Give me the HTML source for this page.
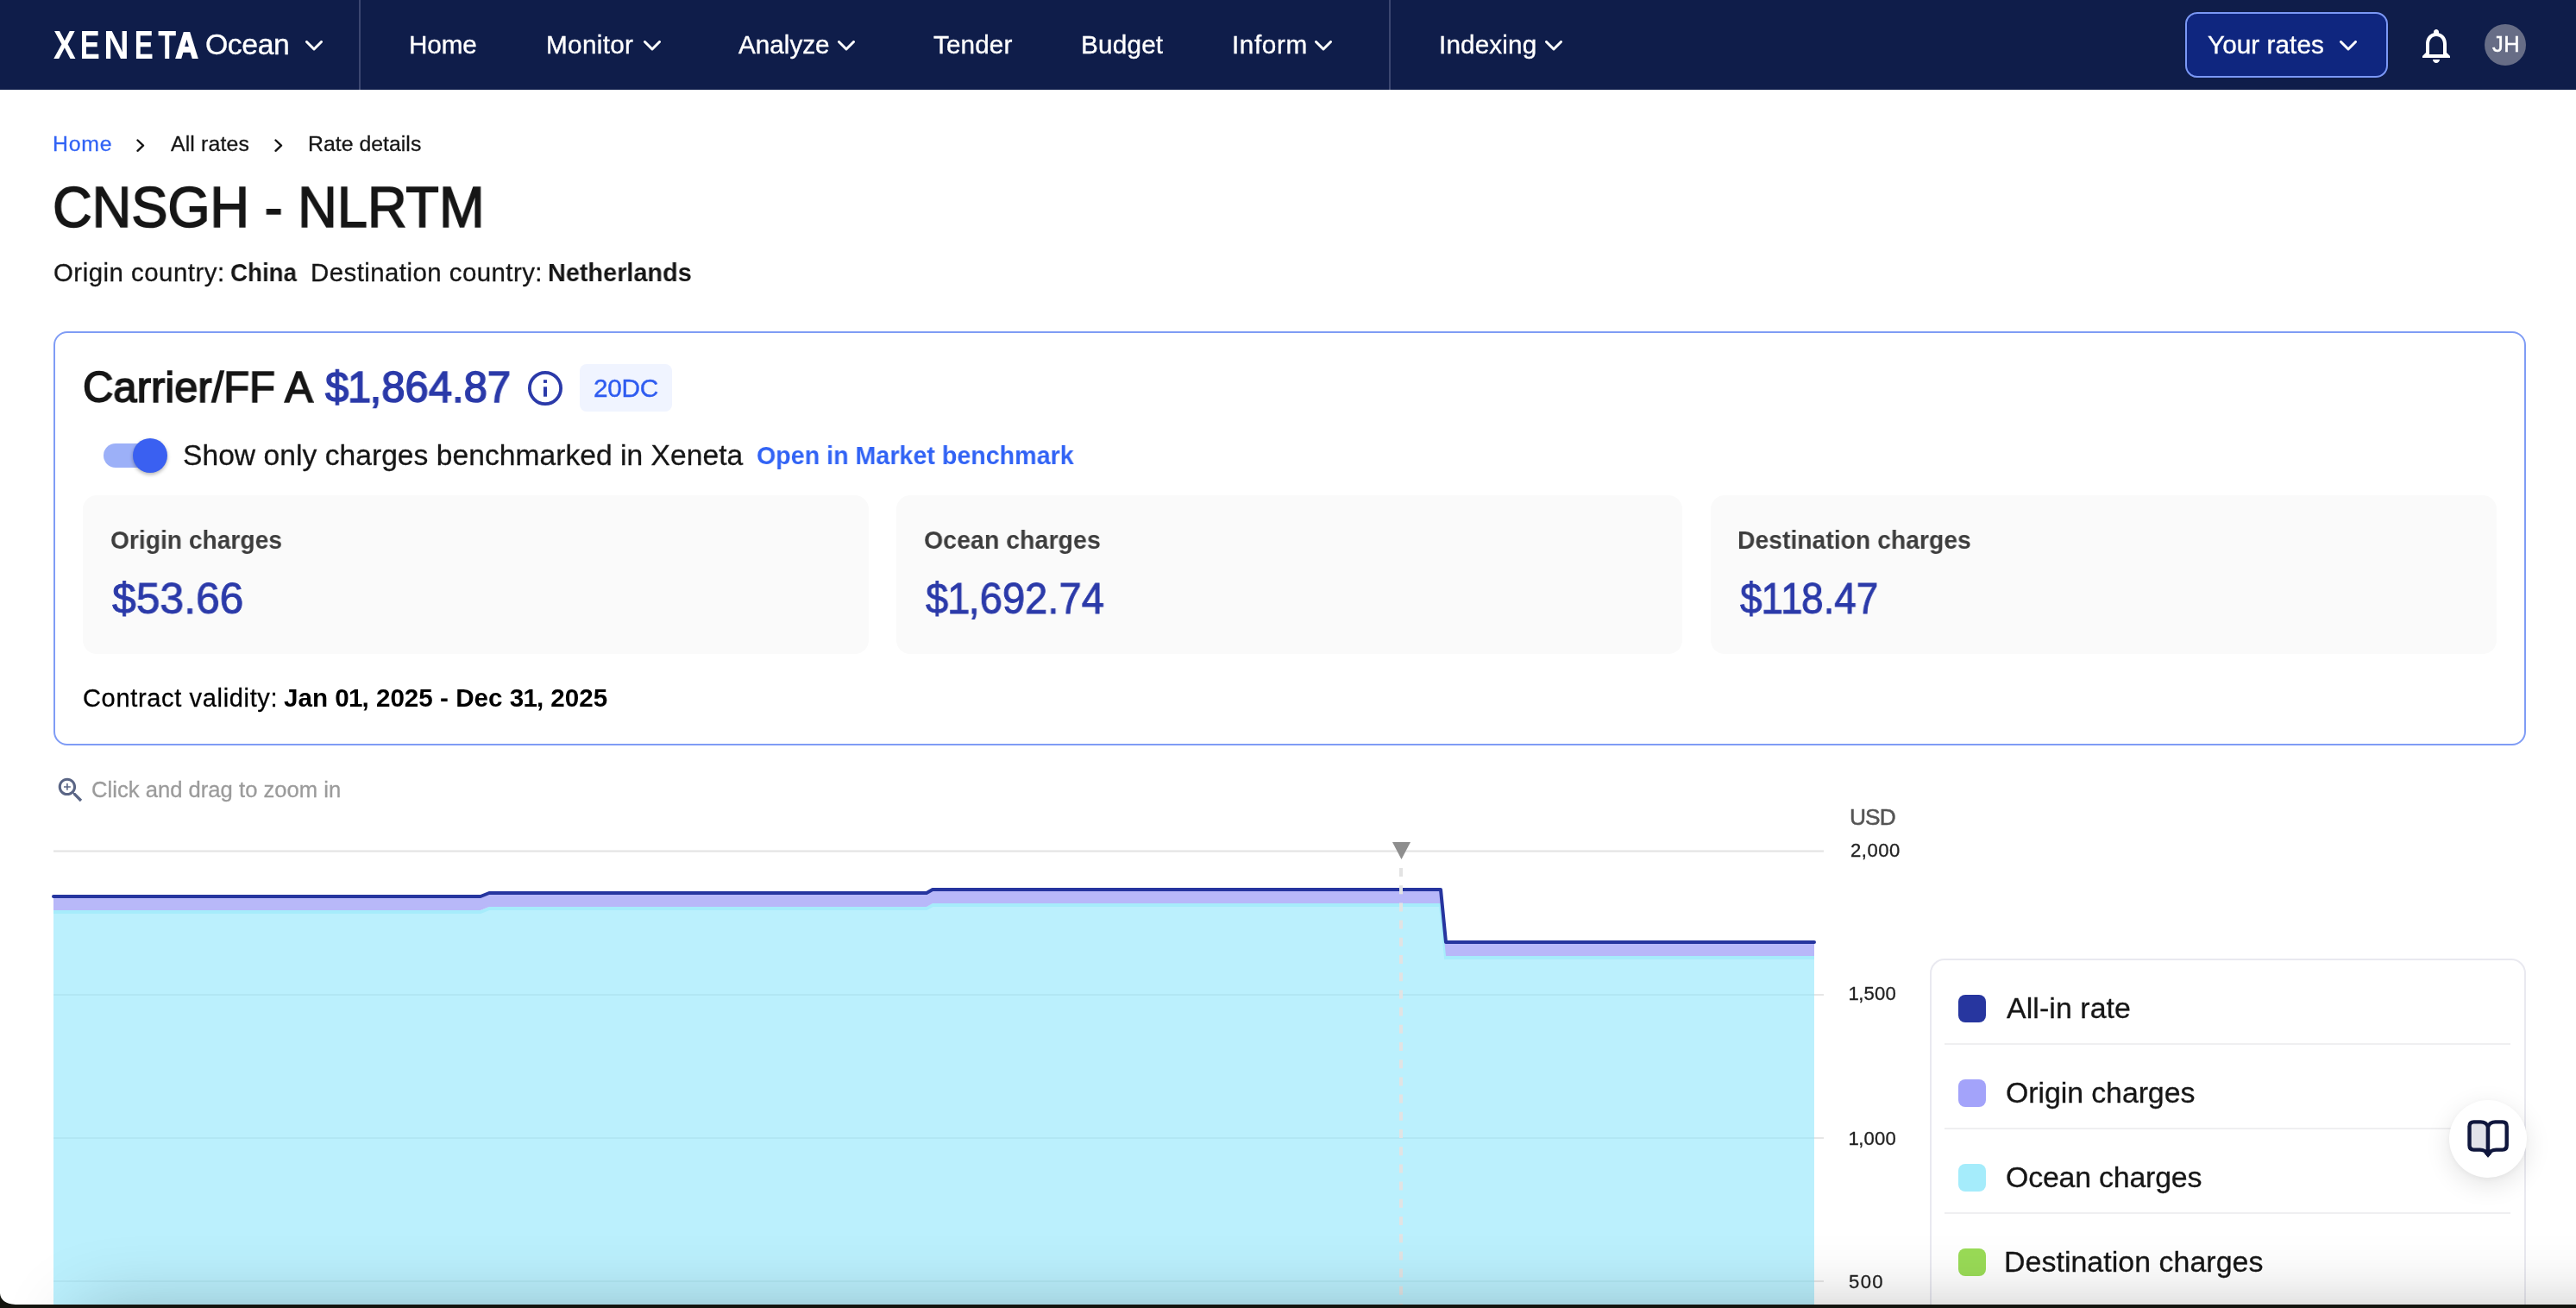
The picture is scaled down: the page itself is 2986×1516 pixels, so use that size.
<!DOCTYPE html>
<html lang="en">
<head>
<meta charset="utf-8">
<title>Rate details</title>
<style>
*{box-sizing:border-box;margin:0;padding:0}
html,body{width:2986px;height:1516px;overflow:hidden;background:#fff}
body{position:relative;font-family:"Liberation Sans",sans-serif;color:#161616}
.t{position:absolute;white-space:nowrap;line-height:1;will-change:transform}
.nav{position:absolute;left:0;top:0;width:2986px;height:104px;background:#0f1d4a}
.nav .t{color:#fff;font-size:29px}
.vdiv{position:absolute;top:0;width:2px;height:104px;background:#3b4670}
svg{position:absolute;overflow:visible;will-change:transform}
b{font-weight:700}
.o{font-style:normal;margin:0 -0.035em 0 -0.025em}
</style>
</head>
<body>
<!-- NAVBAR -->
<div class="nav">
  <svg id="logo" style="left:0;top:0" width="240" height="104" viewBox="0 0 240 104">
    <text transform="translate(62.11,68.0) scale(0.832,1)" font-family="Liberation Sans, sans-serif" font-weight="700" font-size="46.4" fill="#fff">X</text>
    <text transform="translate(92.87,68.0) scale(0.740,1)" font-family="Liberation Sans, sans-serif" font-weight="700" font-size="46.4" fill="#fff">E</text>
    <text transform="translate(120.36,68.0) scale(0.877,1)" font-family="Liberation Sans, sans-serif" font-weight="700" font-size="46.4" fill="#fff">N</text>
    <text transform="translate(155.86,68.0) scale(0.710,1)" font-family="Liberation Sans, sans-serif" font-weight="700" font-size="46.4" fill="#fff">E</text>
    <text transform="translate(183.26,68.0) scale(0.738,1)" font-family="Liberation Sans, sans-serif" font-weight="700" font-size="46.4" fill="#fff">T</text>
    <text transform="translate(203.60,66.90) scale(0.776,0.931)" font-family="Liberation Sans, sans-serif" font-weight="700" font-size="46.4" fill="#fff" stroke="#fff" stroke-width="2.2" stroke-linejoin="miter">A</text>
  </svg>
  <div class="t" id="n-ocean" style="left:238.0px;top:34.6px;font-size:33.8px;letter-spacing:-0.44px;-webkit-text-stroke:0.35px #fff">Ocean</div>
  <svg style="left:354px;top:47px" width="20" height="12" viewBox="0 0 20 12"><path d="M1.5 1.5 L10 10 L18.5 1.5" fill="none" stroke="#fff" stroke-width="3" stroke-linecap="round" stroke-linejoin="round"/></svg>
  <div class="vdiv" style="left:416px"></div>
  <div class="t" id="n-home" style="left:474.0px;top:36.9px;font-size:29.7px;letter-spacing:-0.14px;-webkit-text-stroke:0.35px #fff">Home</div>
  <div class="t" id="n-monitor" style="left:633.2px;top:36.9px;font-size:29.7px;letter-spacing:0.33px;-webkit-text-stroke:0.35px #fff">Monitor</div>
  <svg style="left:746.300px;top:47px" width="20" height="12" viewBox="0 0 20 12"><path d="M1.5 1.5 L10 10 L18.5 1.5" fill="none" stroke="#fff" stroke-width="3" stroke-linecap="round" stroke-linejoin="round"/></svg>
  <div class="t" id="n-analyze" style="left:856.0px;top:36.9px;font-size:29.7px;letter-spacing:-0.00px;-webkit-text-stroke:0.35px #fff">Analyze</div>
  <svg style="left:971.200px;top:47px" width="20" height="12" viewBox="0 0 20 12"><path d="M1.5 1.5 L10 10 L18.5 1.5" fill="none" stroke="#fff" stroke-width="3" stroke-linecap="round" stroke-linejoin="round"/></svg>
  <div class="t" id="n-tender" style="left:1081.8px;top:36.9px;font-size:29.7px;letter-spacing:0.12px;-webkit-text-stroke:0.35px #fff">Tender</div>
  <div class="t" id="n-budget" style="left:1252.8px;top:36.9px;font-size:29.7px;letter-spacing:0.20px;-webkit-text-stroke:0.35px #fff">Budget</div>
  <div class="t" id="n-inform" style="left:1428.2px;top:36.9px;font-size:29.7px;letter-spacing:0.60px;-webkit-text-stroke:0.35px #fff">Inform</div>
  <svg style="left:1524px;top:47px" width="20" height="12" viewBox="0 0 20 12"><path d="M1.5 1.5 L10 10 L18.5 1.5" fill="none" stroke="#fff" stroke-width="3" stroke-linecap="round" stroke-linejoin="round"/></svg>
  <div class="vdiv" style="left:1610px"></div>
  <div class="t" id="n-indexing" style="left:1668.2px;top:36.9px;font-size:29.7px;letter-spacing:0.13px;-webkit-text-stroke:0.35px #fff">Indexing</div>
  <svg style="left:1791px;top:47px" width="20" height="12" viewBox="0 0 20 12"><path d="M1.5 1.5 L10 10 L18.5 1.5" fill="none" stroke="#fff" stroke-width="3" stroke-linecap="round" stroke-linejoin="round"/></svg>
  <div id="yr" style="position:absolute;left:2533px;top:14px;width:235px;height:76px;border:2px solid #7b98f5;border-radius:14px;background:#0f267f"></div>
  <div class="t" id="n-yr" style="left:2559.4px;top:36.9px;font-size:29.7px;letter-spacing:0.07px;-webkit-text-stroke:0.35px #fff">Your rates</div>
  <svg style="left:2712px;top:47px" width="20" height="12" viewBox="0 0 20 12"><path d="M1.5 1.5 L10 10 L18.5 1.5" fill="none" stroke="#fff" stroke-width="3" stroke-linecap="round" stroke-linejoin="round"/></svg>
  <svg id="bell" style="left:2800px;top:28.500px" width="48" height="48" viewBox="0 0 24 24"><path fill="#fff" d="M12 22c1.100 0 2-.9 2-2h-4c0 1.100.9 2 2 2zm6-6v-5c0-3.070-1.630-5.640-4.500-6.320V4c0-.83-.67-1.500-1.500-1.500s-1.500.67-1.500 1.500v.68C7.640 5.360 6 7.920 6 11v5l-2 2v1h16v-1l-2-2zm-2 1H8v-6c0-2.480 1.510-4.500 4-4.500s4 2.020 4 4.500v6z"/></svg>
  <div style="position:absolute;left:2880px;top:28px;width:48px;height:48px;border-radius:50%;background:#676d86"></div>
  <div class="t" id="n-jh" style="left:2888.6px;top:38.5px;font-size:25.4px;-webkit-text-stroke:0.5px #fff;letter-spacing:0.60px">JH</div>
</div>

<!-- BREADCRUMB + TITLE -->
<div class="t" id="bc-home" style="left:61.0px;top:154.5px;font-size:24.8px;color:#3163f5;letter-spacing:0.76px;-webkit-text-stroke:0.3px #3163f5">Home</div>
<svg style="left:158.3px;top:160.500px" width="9.500" height="15.300" viewBox="0 0 9.500 15.300"><path d="M1.500 1.500 L8 7.650 L1.500 13.800" fill="none" stroke="#161616" stroke-width="2.400" stroke-linecap="round" stroke-linejoin="round"/></svg>
<div class="t" id="bc-all" style="left:198.4px;top:154.5px;font-size:24.8px;letter-spacing:0.15px;-webkit-text-stroke:0.3px #161616">All rates</div>
<svg style="left:318.2px;top:160.500px" width="9.500" height="15.300" viewBox="0 0 9.500 15.300"><path d="M1.500 1.500 L8 7.650 L1.500 13.800" fill="none" stroke="#161616" stroke-width="2.400" stroke-linecap="round" stroke-linejoin="round"/></svg>
<div class="t" id="bc-rate" style="left:356.6px;top:154.5px;font-size:24.8px;letter-spacing:0.03px;-webkit-text-stroke:0.3px #161616">Rate details</div>
<div class="t" id="title" style="left:61.0px;top:207.1px;font-size:66.4px;-webkit-text-stroke:1.6px #161616;letter-spacing:0.00px;transform:scaleX(0.9512);transform-origin:0 50%">CNSGH - NLRTM</div>
<div class="t" id="sub1" style="left:62.0px;top:300.9px;font-size:29.4px;letter-spacing:0.50px;-webkit-text-stroke:0.3px #161616">Origin country:</div>
<div class="t" id="sub2" style="left:267.0px;top:300.9px;font-size:29.4px;font-weight:700;letter-spacing:0.00px;transform:scaleX(0.9434);transform-origin:0 50%">China</div>
<div class="t" id="sub3" style="left:359.8px;top:300.9px;font-size:29.4px;letter-spacing:0.46px;-webkit-text-stroke:0.3px #161616">Destination country:</div>
<div class="t" id="sub4" style="left:635.0px;top:300.9px;font-size:29.4px;font-weight:700;letter-spacing:0.00px;transform:scaleX(0.9820);transform-origin:0 50%">Netherlands</div>

<!-- CARD -->
<div id="card" style="position:absolute;left:62px;top:384px;width:2866px;height:480px;border:2px solid #7f9cf5;border-radius:16px;background:#fff"></div>
<div class="t" id="c-title" style="left:96.0px;top:425.2px;font-size:49.6px;-webkit-text-stroke:1.6px #161616;letter-spacing:0.00px;transform:scaleX(0.9874);transform-origin:0 50%">Carrier/FF A</div>
<div class="t" id="c-price" style="left:377.4px;top:425.2px;font-size:49.6px;color:#2b3aa9;-webkit-text-stroke:1.5px #2b3aa9;letter-spacing:0.00px;transform:scaleX(0.9884);transform-origin:0 50%">$<i class="o">1</i>,864.87</div>
<svg id="info" style="left:612px;top:430px" width="40" height="40" viewBox="0 0 40 40"><circle cx="20" cy="20" r="18.100" fill="none" stroke="#2b3aa9" stroke-width="3.800"/><rect x="18" y="18.300" width="4" height="11.400" fill="#2b3aa9"/><rect x="18" y="10.200" width="4" height="3.700" fill="#2b3aa9"/></svg>
<div style="position:absolute;left:672px;top:422px;width:107px;height:55px;border-radius:8px;background:#f0f4ff"></div>
<div class="t" id="c-badge" style="left:687.6px;top:434.7px;font-size:29.8px;color:#2f5cf0;letter-spacing:-0.29px;-webkit-text-stroke:0.4px #2f5cf0">20DC</div>

<div style="position:absolute;left:120px;top:514px;width:72px;height:28px;border-radius:14px;background:#9cb0f8"></div>
<div style="position:absolute;left:154px;top:508px;width:40px;height:40px;border-radius:50%;background:#3a60f1;box-shadow:0 2px 4px rgba(0,0,0,.3)"></div>
<div class="t" id="c-show" style="left:211.6px;top:510.5px;font-size:33.6px;letter-spacing:0.04px;-webkit-text-stroke:0.3px #161616">Show only charges benchmarked in Xeneta</div>
<div class="t" id="c-open" style="left:876.8px;top:513.4px;font-size:29.4px;font-weight:700;color:#3163f5;letter-spacing:0.00px;transform:scaleX(0.9744);transform-origin:0 50%">Open in Market benchmark</div>

<div class="sc" style="position:absolute;left:96px;top:574px;width:911px;height:184px;border-radius:16px;background:#fafafa"></div>
<div class="sc" style="position:absolute;left:1039px;top:574px;width:911px;height:184px;border-radius:16px;background:#fafafa"></div>
<div class="sc" style="position:absolute;left:1983px;top:574px;width:911px;height:184px;border-radius:16px;background:#fafafa"></div>
<div class="t" id="l1" style="left:128.2px;top:611.1px;font-size:29.4px;font-weight:700;color:#3d3d3d;letter-spacing:0.00px;transform:scaleX(0.9594);transform-origin:0 50%">Origin charges</div>
<div class="t" id="l2" style="left:1070.8px;top:611.1px;font-size:29.4px;font-weight:700;color:#3d3d3d;letter-spacing:0.00px;transform:scaleX(0.9716);transform-origin:0 50%">Ocean charges</div>
<div class="t" id="l3" style="left:2014.0px;top:611.1px;font-size:29.4px;font-weight:700;color:#3d3d3d;letter-spacing:0.00px;transform:scaleX(0.9640);transform-origin:0 50%">Destination charges</div>
<div class="t" id="v1" style="left:130.4px;top:668.7px;font-size:50.2px;color:#2b3aa9;-webkit-text-stroke:0.9px #2b3aa9;letter-spacing:0.00px;transform:scaleX(0.9929);transform-origin:0 50%">$53.66</div>
<div class="t" id="v2" style="left:1072.8px;top:668.7px;font-size:50.2px;color:#2b3aa9;-webkit-text-stroke:0.9px #2b3aa9;letter-spacing:0.00px;transform:scaleX(0.9390);transform-origin:0 50%">$<i class="o">1</i>,692.74</div>
<div class="t" id="v3" style="left:2017.2px;top:668.7px;font-size:50.2px;color:#2b3aa9;-webkit-text-stroke:0.9px #2b3aa9;letter-spacing:0.00px;transform:scaleX(0.9140);transform-origin:0 50%">$<i class="o">1</i><i class="o">1</i>8.47</div>
<div class="t" id="valid1" style="left:95.6px;top:795.4px;font-size:29.0px;color:#000;letter-spacing:0.66px;-webkit-text-stroke:0.3px #000">Contract validity:</div>
<div class="t" id="valid2" style="left:328.8px;top:795.4px;font-size:29.0px;font-weight:700;color:#000;letter-spacing:0.00px;transform:scaleX(1.0212);transform-origin:0 50%">Jan 0<i class="o">1</i>, 2025 - Dec 3<i class="o">1</i>, 2025</div>

<!-- CHART -->
<svg id="zoomic" style="left:62.500px;top:897.100px" width="37.680" height="37.680" viewBox="0 0 24 24"><path fill="#5a6585" d="M15.500 14h-.79l-.28-.27C15.410 12.590 16 11.110 16 9.500 16 5.910 13.090 3 9.500 3S3 5.910 3 9.500 5.910 16 9.500 16c1.610 0 3.090-.59 4.230-1.570l.27.28v.79l5 4.990L20.490 19l-4.990-5zm-6 0C7.010 14 5 11.990 5 9.500S7.010 5 9.500 5 14 7.010 14 9.500 11.990 14 9.500 14zm2.500-4h-2v2H9v-2H7V9h2V7h1v2h2v1z"/></svg>
<div class="t" id="z-text" style="left:106.2px;top:903.3px;font-size:25.6px;color:#9b9b9b;letter-spacing:0.02px;-webkit-text-stroke:0.3px #9b9b9b">Click and drag to zoom in</div>

<svg id="chart" style="left:0;top:0" width="2986" height="1516" viewBox="0 0 2986 1516">
  <!-- gridlines -->
  <path d="M62 986.500 H2114" stroke="#e2e2e2" stroke-width="2" fill="none"/>
  <path d="M62 1153 H2114 M62 1319 H2114 M62 1485 H2114" stroke="#e6e6e6" stroke-width="2" fill="none"/>
  <!-- ocean area -->
  <path d="M62 1057 L557 1057 L567 1053 L1074 1053 L1081 1049 L1670 1049 L1676 1110 L2103 1110 L2103 1516 L62 1516 Z" fill="#bbf0fd"/>
  <path d="M62 1057 L557 1057 L567 1053 L1074 1053 L1081 1049 L1670 1049 L1676 1110 L2103 1110" fill="none" stroke="#a6ecfb" stroke-width="4"/>
  <!-- gridlines over fill (faint) -->
  <path d="M62 1153 H2103 M62 1319 H2103 M62 1485 H2103" stroke="#b2e7f4" stroke-width="2" fill="none"/>
  <!-- origin area -->
  <path d="M62 1039 L557 1039 L567 1035 L1074 1035 L1081 1031 L1670 1031 L1676 1092 L2103 1092 L2103 1108 L1676 1108 L1670 1047 L1081 1047 L1074 1051 L567 1051 L557 1055 L62 1055 Z" fill="#b8b8f9"/>
  <!-- all-in line -->
  <path d="M62 1039 L557 1039 L567 1035 L1074 1035 L1081 1031 L1670 1031 L1676 1092 L2103 1092" fill="none" stroke="#26359f" stroke-width="4" stroke-linejoin="round" stroke-linecap="round"/>
  <!-- dashed marker -->
  <path d="M1624 1006 V1516" stroke="#e3e3e3" stroke-width="4" stroke-dasharray="10 10.200" fill="none"/>
  <path d="M1614 976 H1635 L1624.500 996 Z" fill="#8e8e8e"/>
</svg>
<div class="t" id="a-usd" style="left:2143.8px;top:933.6px;font-size:26.3px;color:#555;-webkit-text-stroke:0.5px #555;letter-spacing:-0.90px">USD</div>
<div class="t" id="a-2000" style="left:2144.6px;top:975.3px;font-size:22.1px;color:#222;letter-spacing:0.53px;-webkit-text-stroke:0.3px #222">2,000</div>
<div class="t" id="a-1500" style="left:2143.4px;top:1141.4px;font-size:22.1px;color:#222;letter-spacing:0.22px;-webkit-text-stroke:0.3px #222"><i class="o">1</i>,500</div>
<div class="t" id="a-1000" style="left:2143.4px;top:1309.3px;font-size:22.1px;color:#222;letter-spacing:0.22px;-webkit-text-stroke:0.3px #222"><i class="o">1</i>,000</div>
<div class="t" id="a-500" style="left:2143.4px;top:1475.3px;font-size:22.1px;color:#222;letter-spacing:1.40px;-webkit-text-stroke:0.3px #222">500</div>

<!-- LEGEND -->
<div id="legend" style="position:absolute;left:2237px;top:1111px;width:691px;height:460px;border:2px solid #e9e9f0;border-radius:17px;background:#fff"></div>
<div style="position:absolute;left:2254px;top:1209px;width:656px;height:2px;background:#efeff1"></div>
<div style="position:absolute;left:2254px;top:1307px;width:656px;height:2px;background:#efeff1"></div>
<div style="position:absolute;left:2254px;top:1405px;width:656px;height:2px;background:#efeff1"></div>
<div style="position:absolute;left:2270px;top:1153px;width:32px;height:32px;border-radius:8px;background:#27369f"></div>
<div style="position:absolute;left:2270px;top:1251px;width:32px;height:32px;border-radius:8px;background:#a3a3fa"></div>
<div style="position:absolute;left:2270px;top:1349px;width:32px;height:32px;border-radius:8px;background:#a5ecfb"></div>
<div style="position:absolute;left:2270px;top:1447px;width:32px;height:32px;border-radius:8px;background:#9adc57"></div>
<div class="t" id="lg1" style="left:2326.0px;top:1151.5px;font-size:33.9px;letter-spacing:0.08px;-webkit-text-stroke:0.3px #161616">All-in rate</div>
<div class="t" id="lg2" style="left:2325.0px;top:1249.7px;font-size:33.9px;letter-spacing:-0.08px;-webkit-text-stroke:0.3px #161616">Origin charges</div>
<div class="t" id="lg3" style="left:2325.0px;top:1347.8px;font-size:33.9px;letter-spacing:-0.20px;-webkit-text-stroke:0.3px #161616">Ocean charges</div>
<div class="t" id="lg4" style="left:2323.0px;top:1445.9px;font-size:33.9px;letter-spacing:0.05px;-webkit-text-stroke:0.3px #161616">Destination charges</div>

<!-- FLOATING BUTTON -->
<div id="fab" style="position:absolute;left:2839px;top:1275px;width:90px;height:90px;border-radius:50%;background:#fff;box-shadow:0 8px 30px rgba(0,0,0,.11),0 2px 6px rgba(0,0,0,.04)"></div>
<svg id="book" style="left:2860px;top:1297px" width="48" height="46" viewBox="0 0 48 46">
  <path d="M24 9 C22.500 5 19.500 3.400 15.500 3.400 H7.500 Q2.500 3.400 2.500 8.400 V30.600 Q2.500 35.600 7.500 35.600 H14.500 C19 35.600 22 37.200 24 41 Z" fill="#e1e2e9" stroke="#10173d" stroke-width="4.400" stroke-linejoin="round"/>
  <path d="M24 9 C25.500 5 28.500 3.400 32.500 3.400 H40.700 Q45.700 3.400 45.700 8.400 V30.600 Q45.700 35.600 40.700 35.600 H33.500 C29 35.600 26 37.200 24 41 Z" fill="#fff" stroke="#10173d" stroke-width="4.400" stroke-linejoin="round"/>
  <path d="M20 39.500 L24 44.300 L28 39.500 Z" fill="#10173d" stroke="#10173d" stroke-width="1" stroke-linejoin="round"/>
</svg>

<!-- BOTTOM WINDOW EDGE -->
<div style="position:absolute;left:95px;top:1527px;width:3300px;height:120px;box-shadow:0 0 90px 0 rgba(0,0,0,.30)"></div>
<div style="position:absolute;left:0;top:1512px;width:2986px;height:4px;background:#14150f"></div>
<svg style="left:0;top:1499px" width="18" height="13" viewBox="0 0 18 13"><path d="M0 0 C0.500 7 6 12.500 18 13 H0 Z" fill="#14150f"/></svg>
</body>
</html>
